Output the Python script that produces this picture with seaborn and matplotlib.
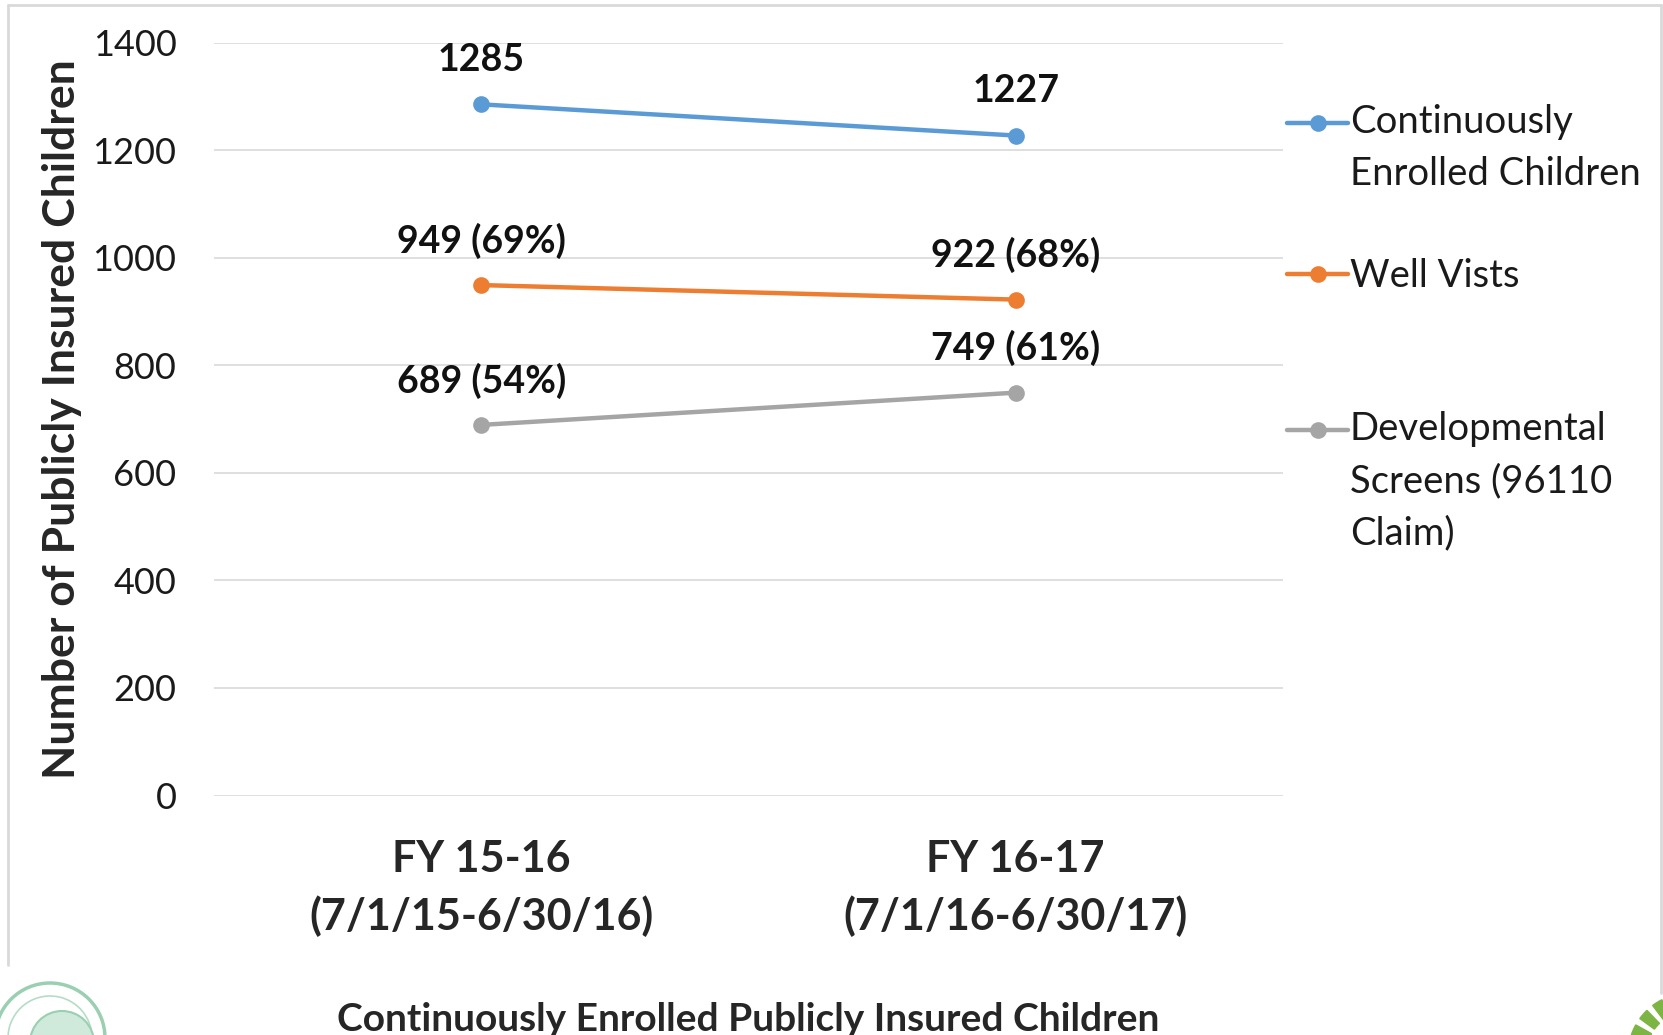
import pandas as pd
import matplotlib.pyplot as plt
from matplotlib.lines import Line2D
from matplotlib.patches import Circle, Wedge
import seaborn as sns

# Значения с графика
periods = ["FY 15-16\n(7/1/15-6/30/16)", "FY 16-17\n(7/1/16-6/30/17)"]
enrolled = [1285, 1227]
well_visits = [949, 922]
well_pct = [69, 68]
dev_screens = [689, 749]
dev_pct = [54, 61]

series_names = ["Continuously Enrolled Children", "Well Vists",
                "Developmental Screens (96110 Claim)"]
legend_labels = ["\nContinuously\nEnrolled Children", "Well Vists",
                 "\n\nDevelopmental\nScreens (96110\nClaim)"]
colors = ["#5B9BD5", "#ED7D31", "#A5A5A5"]
y_ticks = [0, 200, 400, 600, 800, 1000, 1200, 1400]

df = pd.DataFrame({
    "period": periods * 3,
    "pos": [0, 1] * 3,
    "series": [series_names[0]] * 2 + [series_names[1]] * 2 + [series_names[2]] * 2,
    "value": enrolled + well_visits + dev_screens,
})

sns.set_style("white")
plt.rcParams["font.family"] = ["Lato", "DejaVu Sans"]

W, H = 1663, 1035
fig = plt.figure(figsize=(W / 100, H / 100), dpi=100)
ax = fig.add_axes([214 / W, 239.5 / H, 1069 / W, 753 / H])

sns.lineplot(data=df, x="pos", y="value", hue="series", hue_order=series_names,
             palette=colors, marker="o", markersize=12, markeredgewidth=0,
             linewidth=3.2, legend=False, ax=ax)

ax.set_xlim(-0.5, 1.5)
ax.set_ylim(0, 1400)
ax.set_yticks(y_ticks)
ax.set_yticklabels([str(t) for t in y_ticks], fontsize=26, color="#1a1a1a")
ax.set_xticks([0, 1])
ax.set_xticklabels(periods, fontsize=31, fontweight="bold", linespacing=1.5)
ax.tick_params(axis="y", length=0, pad=27)
ax.tick_params(axis="x", length=0, pad=31)
ax.grid(axis="y", color="#D9D9D9", linewidth=1.2)
ax.grid(axis="x", visible=False)
sns.despine(ax=ax, left=True, bottom=True)

ax.set_ylabel("Number of Publicly Insured Children", fontsize=32, fontweight="bold")
ax.yaxis.label.set_va("center")
ax.yaxis.set_label_coords(-0.142, 0.5)
ax.set_xlabel("Continuously Enrolled Publicly Insured Children", fontsize=28,
              fontweight="bold")
ax.xaxis.label.set_va("baseline")
ax.xaxis.set_label_coords(0.5, -0.313)

# подписи значений
labels_all = [
    [str(v) for v in enrolled],
    [f"{v} ({p}%)" for v, p in zip(well_visits, well_pct)],
    [f"{v} ({p}%)" for v, p in zip(dev_screens, dev_pct)],
]
values_all = [enrolled, well_visits, dev_screens]
for vals, labs in zip(values_all, labels_all):
    for i, (v, lab) in enumerate(zip(vals, labs)):
        ax.annotate(lab, (i, v), xytext=(0, 32), textcoords="offset points",
                    ha="center", va="center", fontsize=27, fontweight="bold",
                    color="#111111")

# легенда: отдельный блок для каждой серии
lines = ax.get_lines()[:3]
legend_y = [1 - 122 / H, 1 - 276 / H, 1 - 429 / H]
for k, (ln, lab, yy) in enumerate(zip(lines, legend_labels, legend_y)):
    leg = ax.legend([ln], [lab], loc="center left", bbox_to_anchor=(1287 / W, yy),
                    bbox_transform=fig.transFigure, frameon=False, fontsize=27.5,
                    handlelength=1.6, handletextpad=0.04, borderpad=0,
                    borderaxespad=0, numpoints=1)
    for t in leg.get_texts():
        t.set_linespacing(1.55)
        t.set_color("#1a1a1a")
    if k < 2:
        ax.add_artist(leg)

# рамка слайда
frame_kw = dict(color="#D9D9D9", linewidth=2, transform=fig.transFigure)
fig.add_artist(Line2D([8 / W, 8 / W], [1 - 5 / H, 70 / H], **frame_kw))
fig.add_artist(Line2D([8 / W, 1661 / W], [1 - 5 / H, 1 - 5 / H], **frame_kw))
fig.add_artist(Line2D([1661 / W, 1661 / W], [1 - 5 / H, 42 / H], **frame_kw))

# логотипы в углах (упрощённо)
fig.add_artist(Circle((50, -3), 55, transform=None, facecolor="white",
                      edgecolor="#9ACFB2", linewidth=2.5))
fig.add_artist(Circle((50, -3), 42, transform=None, facecolor="none",
                      edgecolor="#B5DCC6", linewidth=1.2))
fig.add_artist(Circle((62, -8), 32, transform=None, facecolor="#CFEADB",
                      edgecolor="#9ACFB2", linewidth=1.5))
for a in range(100, 200, 17):
    fig.add_artist(Wedge((1690, H - 1055), 62, a, a + 10, width=18,
                         transform=None, color="#7DB544"))

fig.savefig("out.png", dpi=100)
